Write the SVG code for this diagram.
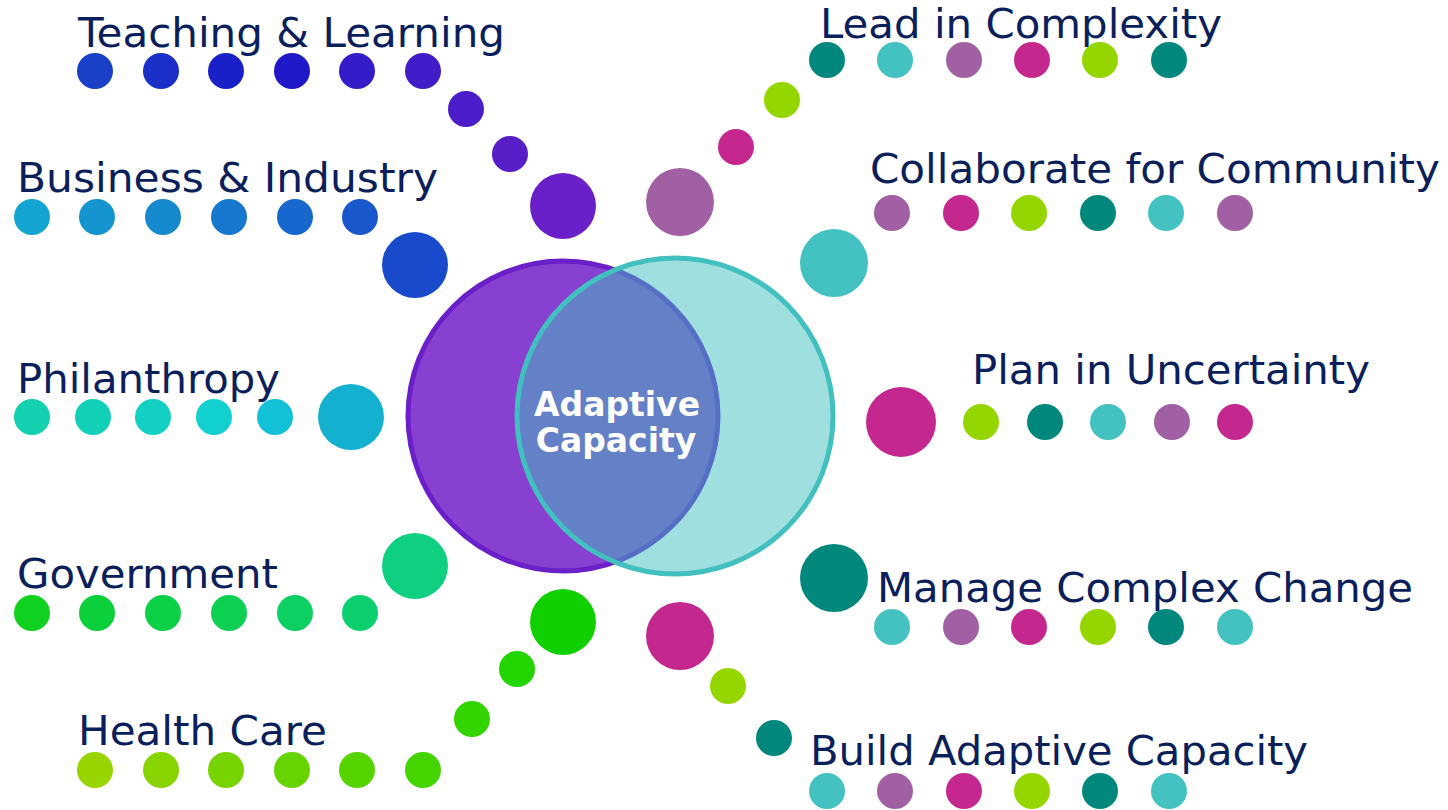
<svg xmlns="http://www.w3.org/2000/svg" width="1448" height="810" viewBox="0 0 1448 810">
<style>
.lbl{font-family:"DejaVu Sans","Verdana",sans-serif;font-size:41px;fill:#0b1f5c}
.ctr{font-family:"DejaVu Sans","Verdana",sans-serif;font-size:33px;font-weight:bold;fill:#ffffff;text-anchor:middle}
.tl{fill:#02877d}.cy{fill:#43c2c1}.pu{fill:#a060a3}.mg{fill:#c4288f}.li{fill:#96d600}
</style>
<rect width="1448" height="810" fill="#ffffff"/>
<g id="connectors">
  <circle cx="466" cy="109" r="18" fill="#4a1dc8"/>
  <circle cx="510" cy="154" r="18" fill="#571ec8"/>
  <circle cx="563" cy="206" r="33" fill="#6a20c8"/>
  <circle cx="415" cy="265" r="33" fill="#1a4acc"/>
  <circle cx="351" cy="417" r="33" fill="#14b0d0"/>
  <circle cx="415" cy="566" r="33" fill="#0ed080"/>
  <circle cx="563" cy="622" r="33" fill="#10d000"/>
  <circle cx="517" cy="669" r="18" fill="#22d400"/>
  <circle cx="472" cy="719" r="18" fill="#33d400"/>
  <circle class="pu" cx="680" cy="202" r="34"/>
  <circle class="mg" cx="736" cy="147" r="18"/>
  <circle class="li" cx="782" cy="100" r="18"/>
  <circle class="cy" cx="834" cy="263" r="34"/>
  <circle class="mg" cx="901" cy="422" r="35"/>
  <circle class="tl" cx="834" cy="578" r="34"/>
  <circle class="mg" cx="680" cy="636" r="34"/>
  <circle class="li" cx="728" cy="686" r="18"/>
  <circle class="tl" cx="774" cy="738" r="18"/>
</g>
<g id="center">
  <circle cx="563" cy="416" r="155" fill="#8740cf" stroke="#6a1fc8" stroke-width="5"/>
  <circle cx="675" cy="416" r="158" fill="#42c0c0" fill-opacity="0.5" stroke="#42c0c0" stroke-width="5"/>
  <text class="ctr" x="617" y="416">Adaptive</text>
  <text class="ctr" x="616" y="452">Capacity</text>
</g>
<g id="teaching">
  <text class="lbl" x="78" y="47" textLength="427" lengthAdjust="spacingAndGlyphs">Teaching &amp; Learning</text>
  <circle cx="95" cy="71" r="18" fill="#1a40c8"/>
  <circle cx="161" cy="71" r="18" fill="#1a2ec8"/>
  <circle cx="226" cy="71" r="18" fill="#1a20c8"/>
  <circle cx="292" cy="71" r="18" fill="#2018c8"/>
  <circle cx="357" cy="71" r="18" fill="#341cc8"/>
  <circle cx="423" cy="71" r="18" fill="#421cc8"/>
</g>
<g id="business">
  <text class="lbl" x="17" y="192" textLength="421" lengthAdjust="spacingAndGlyphs">Business &amp; Industry</text>
  <circle cx="32" cy="217" r="18" fill="#14a5d2"/>
  <circle cx="97" cy="217" r="18" fill="#1595d0"/>
  <circle cx="163" cy="217" r="18" fill="#1588ce"/>
  <circle cx="229" cy="217" r="18" fill="#1578ce"/>
  <circle cx="295" cy="217" r="18" fill="#1668ce"/>
  <circle cx="360" cy="217" r="18" fill="#1858cc"/>
</g>
<g id="philanthropy">
  <text class="lbl" x="17" y="393" textLength="263" lengthAdjust="spacingAndGlyphs">Philanthropy</text>
  <circle cx="32" cy="417" r="18" fill="#12d0b0"/>
  <circle cx="93" cy="417" r="18" fill="#12d0b8"/>
  <circle cx="153" cy="417" r="18" fill="#12d0c4"/>
  <circle cx="214" cy="417" r="18" fill="#12d0d0"/>
  <circle cx="275" cy="417" r="18" fill="#12c0d8"/>
</g>
<g id="government">
  <text class="lbl" x="17" y="588" textLength="261" lengthAdjust="spacingAndGlyphs">Government</text>
  <circle cx="32" cy="613" r="18" fill="#10d020"/>
  <circle cx="97" cy="613" r="18" fill="#0cd03a"/>
  <circle cx="163" cy="613" r="18" fill="#0cd046"/>
  <circle cx="229" cy="613" r="18" fill="#0cd052"/>
  <circle cx="295" cy="613" r="18" fill="#0cd062"/>
  <circle cx="360" cy="613" r="18" fill="#0cd070"/>
</g>
<g id="health">
  <text class="lbl" x="78" y="745" textLength="249" lengthAdjust="spacingAndGlyphs">Health Care</text>
  <circle cx="95" cy="770" r="18" fill="#98d400"/>
  <circle cx="161" cy="770" r="18" fill="#88d400"/>
  <circle cx="226" cy="770" r="18" fill="#78d400"/>
  <circle cx="292" cy="770" r="18" fill="#66d400"/>
  <circle cx="357" cy="770" r="18" fill="#55d400"/>
  <circle cx="423" cy="770" r="18" fill="#44d400"/>
</g>
<g id="lead">
  <text class="lbl" x="820" y="38" textLength="402" lengthAdjust="spacingAndGlyphs">Lead in Complexity</text>
  <circle class="tl" cx="827" cy="60" r="18"/>
  <circle class="cy" cx="895" cy="60" r="18"/>
  <circle class="pu" cx="964" cy="60" r="18"/>
  <circle class="mg" cx="1032" cy="60" r="18"/>
  <circle class="li" cx="1100" cy="60" r="18"/>
  <circle class="tl" cx="1169" cy="60" r="18"/>
</g>
<g id="collaborate">
  <text class="lbl" x="870" y="183" textLength="570" lengthAdjust="spacingAndGlyphs">Collaborate for Community</text>
  <circle class="pu" cx="892" cy="213" r="18"/>
  <circle class="mg" cx="961" cy="213" r="18"/>
  <circle class="li" cx="1029" cy="213" r="18"/>
  <circle class="tl" cx="1098" cy="213" r="18"/>
  <circle class="cy" cx="1166" cy="213" r="18"/>
  <circle class="pu" cx="1235" cy="213" r="18"/>
</g>
<g id="plan">
  <text class="lbl" x="972" y="384" textLength="398" lengthAdjust="spacingAndGlyphs">Plan in Uncertainty</text>
  <circle class="li" cx="981" cy="422" r="18"/>
  <circle class="tl" cx="1045" cy="422" r="18"/>
  <circle class="cy" cx="1108" cy="422" r="18"/>
  <circle class="pu" cx="1172" cy="422" r="18"/>
  <circle class="mg" cx="1235" cy="422" r="18"/>
</g>
<g id="manage">
  <text class="lbl" x="877" y="602" textLength="536" lengthAdjust="spacingAndGlyphs">Manage Complex Change</text>
  <circle class="cy" cx="892" cy="627" r="18"/>
  <circle class="pu" cx="961" cy="627" r="18"/>
  <circle class="mg" cx="1029" cy="627" r="18"/>
  <circle class="li" cx="1098" cy="627" r="18"/>
  <circle class="tl" cx="1166" cy="627" r="18"/>
  <circle class="cy" cx="1235" cy="627" r="18"/>
</g>
<g id="build">
  <text class="lbl" x="810" y="765" textLength="498" lengthAdjust="spacingAndGlyphs">Build Adaptive Capacity</text>
  <circle class="cy" cx="827" cy="791" r="18"/>
  <circle class="pu" cx="895" cy="791" r="18"/>
  <circle class="mg" cx="964" cy="791" r="18"/>
  <circle class="li" cx="1032" cy="791" r="18"/>
  <circle class="tl" cx="1100" cy="791" r="18"/>
  <circle class="cy" cx="1169" cy="791" r="18"/>
</g>
</svg>
